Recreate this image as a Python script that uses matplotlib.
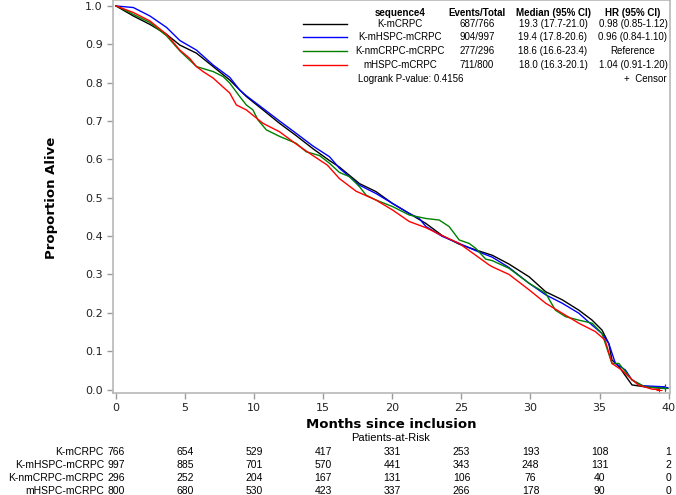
import matplotlib
matplotlib.use("Agg")
import matplotlib.pyplot as plt
import matplotlib.transforms as mtransforms
from matplotlib.lines import Line2D

# survival curves (months, proportion alive)
t_kmcrpc = [0, 1.25, 2.45, 3.66, 4.62, 5.82, 7.03, 8.23, 9.43, 10.64, 11.84, 13.04, 14.25, 15.45, 16.17,
            17.62, 18.82, 20.02, 21.23, 22.43, 23.63, 24.84, 26.04, 27.24, 28.45, 29.9, 31.1, 32.3, 33.5,
            34.46, 35.18, 35.67, 35.9, 36.4, 37.35, 38.3, 39.76]
s_kmcrpc = [1.0, 0.974, 0.952, 0.926, 0.898, 0.877, 0.842, 0.807, 0.764, 0.729, 0.694, 0.662, 0.628, 0.597, 0.580,
            0.537, 0.516, 0.485, 0.459, 0.433, 0.401, 0.379, 0.364, 0.350, 0.327, 0.294, 0.255, 0.234, 0.207,
            0.181, 0.155, 0.120, 0.077, 0.060, 0.012, 0.007, 0.003]

t_kmhspc = [0, 1.25, 2.45, 3.66, 4.62, 5.82, 7.03, 8.23, 8.95, 9.43, 10.64, 11.84, 13.04, 14.25, 15.45, 16.17,
            17.62, 18.82, 20.02, 21.23, 21.95, 22.43, 23.63, 24.84, 26.04, 27.24, 28.45, 29.9, 31.1, 32.3, 33.5,
            34.46, 35.18, 35.67, 36.15, 36.87, 37.35, 38.08, 39.76]
s_kmhspc = [1.0, 0.996, 0.974, 0.944, 0.910, 0.885, 0.846, 0.814, 0.781, 0.766, 0.733, 0.700, 0.668, 0.635, 0.607, 0.577,
            0.533, 0.511, 0.485, 0.459, 0.446, 0.425, 0.399, 0.381, 0.362, 0.345, 0.318, 0.277, 0.247, 0.225, 0.199,
            0.168, 0.146, 0.120, 0.068, 0.051, 0.025, 0.010, 0.007]

t_knmcrpc = [0, 0.3, 1.25, 2.45, 3.66, 4.62, 5.82, 7.03, 7.75, 8.23, 8.95, 9.43, 9.91, 10.27, 10.88, 11.84, 13.04,
             13.76, 14.73, 15.45, 16.17, 16.9, 17.62, 18.1, 18.82, 20.02, 21.23, 22.43, 23.39, 24.11, 24.84, 25.56,
             26.04, 26.76, 27.24, 28.45, 29.9, 31.1, 31.8, 32.54, 33.5, 34.46, 35.18, 35.9, 36.4, 37.35, 38.3, 39.76]
s_knmcrpc = [1.0, 0.996, 0.978, 0.957, 0.922, 0.883, 0.842, 0.829, 0.816, 0.799, 0.764, 0.742, 0.729, 0.703, 0.677,
             0.660, 0.642, 0.620, 0.610, 0.590, 0.566, 0.555, 0.529, 0.507, 0.494, 0.477, 0.455, 0.446, 0.442, 0.425,
             0.390, 0.381, 0.368, 0.340, 0.336, 0.316, 0.277, 0.251, 0.207, 0.190, 0.181, 0.173, 0.146, 0.068, 0.068,
             0.025, 0.007, 0.003]

t_mhspc = [0, 1.25, 2.45, 3.66, 4.62, 5.34, 5.82, 6.3, 7.03, 8.23, 8.71, 9.43, 10.64, 11.84, 13.04, 14.25, 15.3,
           16.17, 17.38, 18.82, 20.02, 21.23, 22.43, 23.63, 24.84, 26.04, 27.0, 27.24, 28.45, 29.9, 31.1, 32.3,
           33.5, 34.7, 35.4, 35.9, 36.6, 37.1, 37.8, 38.8, 39.3]
s_mhspc = [1.0, 0.983, 0.961, 0.926, 0.885, 0.863, 0.842, 0.829, 0.812, 0.773, 0.742, 0.729, 0.694, 0.672, 0.640,
           0.610, 0.585, 0.550, 0.517, 0.494, 0.468, 0.438, 0.422, 0.401, 0.381, 0.350, 0.325, 0.320, 0.300, 0.260,
           0.225, 0.199, 0.173, 0.151, 0.129, 0.068, 0.051, 0.034, 0.012, 0.001, 0.0]

groups = ["K-mCRPC", "K-mHSPC-mCRPC", "K-nmCRPC-mCRPC", "mHSPC-mCRPC"]
colors = ["black", "blue", "green", "red"]
events = ["687/766", "904/997", "277/296", "711/800"]
medians = ["19.3 (17.7-21.0)", "19.4 (17.8-20.6)", "18.6 (16.6-23.4)", "18.0 (16.3-20.1)"]
hrs = ["0.98 (0.85-1.12)", "0.96 (0.84-1.10)", "Reference", "1.04 (0.91-1.20)"]

risk_times = [0, 5, 10, 15, 20, 25, 30, 35, 40]
risk_kmcrpc = [766, 654, 529, 417, 331, 253, 193, 108, 1]
risk_kmhspc = [997, 885, 701, 570, 441, 343, 248, 131, 2]
risk_knmcrpc = [296, 252, 204, 167, 131, 106, 76, 40, 0]
risk_mhspc = [800, 680, 530, 423, 337, 266, 178, 90, 0]

W, H = 676, 495
fig = plt.figure(figsize=(W / 100, H / 100), dpi=100)
ax = fig.add_axes([113 / W, 1 - 393 / H, (670 - 113) / W, 393 / H])

curves = [(t_kmcrpc, s_kmcrpc), (t_kmhspc, s_kmhspc), (t_knmcrpc, s_knmcrpc), (t_mhspc, s_mhspc)]
for (t, s), c in zip(curves, colors):
    ax.plot(t, s, color=c, lw=1.0)
    ax.plot(t[-1], s[-1], marker="+", color=c, ms=5, mew=0.8)

ax.set_xlim(-0.22, 40.1)
ax.set_ylim(-0.009, 1.0156)
ax.set_xticks(risk_times)
ax.set_yticks([i / 10 for i in range(11)])
ax.set_yticklabels([f"{i / 10:.1f}" for i in range(11)])
for sp in ax.spines.values():
    sp.set_color("#b8b8b8")
    sp.set_linewidth(1.2)
ax.tick_params(colors="#9a9a9a", length=4, width=1, labelcolor="#222222", labelsize=8)

fig.text(52 / W, 1 - 198 / H, "Proportion Alive", rotation=90, ha="center", va="center",
         fontsize=9.5, fontweight="bold")
fig.text(391 / W, 1 - 425 / H, "Months since inclusion", ha="center", va="center",
         fontsize=9.5, fontweight="bold")
fig.text(391 / W, 1 - 438 / H, "Patients-at-Risk", ha="center", va="center",
         fontsize=8, family="Liberation Sans")

narrow = ["Liberation Sans Narrow", "Liberation Sans"]

# patients at risk table
tr = mtransforms.blended_transform_factory(ax.transData, fig.transFigure)
risks = [risk_kmcrpc, risk_kmhspc, risk_knmcrpc, risk_mhspc]
row_y = [452, 465, 478, 491]
for name, row, y in zip(groups, risks, row_y):
    fig.text(104 / W, 1 - y / H, name, ha="right", va="center", fontsize=7.5, family=narrow)
    for x, n in zip(risk_times, row):
        ax.text(x, 1 - y / H, str(n), transform=tr, ha="center", va="center",
                fontsize=7.5, family=narrow, clip_on=False)

# inset legend table
hy = 13
heads = [("sequence4", 400), ("Events/Total", 477), ("Median (95% CI)", 553), ("HR (95% CI)", 633)]
for txt, x in heads:
    fig.text(x / W, 1 - hy / H, txt, ha="center", va="center", fontsize=7,
             fontweight="bold", family="Liberation Sans")
leg_y = [24, 37, 51, 65]
for name, c, ev, md, hr, y in zip(groups, colors, events, medians, hrs, leg_y):
    fig.add_artist(Line2D([303 / W, 347 / W], [1 - y / H, 1 - y / H], color=c, lw=1.0))
    for txt, x in [(name, 400), (ev, 477), (md, 553), (hr, 633)]:
        fig.text(x / W, 1 - y / H, txt, ha="center", va="center", fontsize=7, family="Liberation Sans")
fig.text(358 / W, 1 - 79 / H, "Logrank P-value: 0.4156", ha="left", va="center", fontsize=7,
         family="Liberation Sans")
fig.text(667 / W, 1 - 79 / H, "+  Censor", ha="right", va="center", fontsize=7, family="Liberation Sans")

fig.savefig("out.png", dpi=100)
